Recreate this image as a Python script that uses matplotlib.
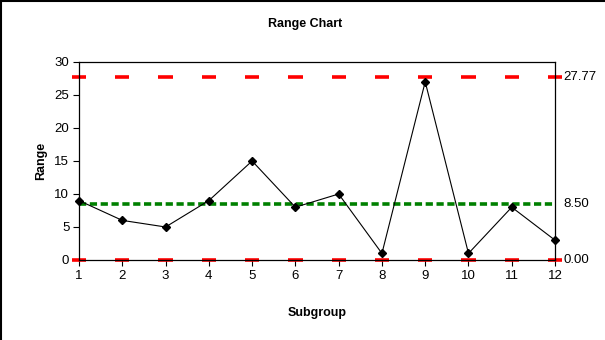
import numpy as np
import matplotlib.pyplot as plt
from matplotlib.lines import Line2D

plt.rcParams['font.family'] = ['Liberation Sans', 'DejaVu Sans']

# Range chart data
subgroups = np.arange(1, 13)
ranges = [9, 6, 5, 9, 15, 8, 10, 1, 27, 1, 8, 3]
ucl = 27.77
cl = 8.50
lcl = 0.00

fig = plt.figure(figsize=(6.05, 3.4), dpi=100)
ax = fig.add_axes([0.1306, 0.2353, 0.7868, 0.5824])

# control limits: red dashes centred on each subgroup
for lim in (ucl, lcl):
    ax.hlines(np.full(len(subgroups), lim), subgroups - 0.165, subgroups + 0.165,
              colors='#ff0000', linewidth=2.6, clip_on=False, zorder=2)
ax.plot([subgroups[0], subgroups[-1]], [cl, cl], color='#008000',
        linewidth=2.6, dashes=(2.0, 1.0), zorder=2)

ax.plot(subgroups, ranges, color='black', linewidth=0.8, marker='D',
        markersize=4.5, zorder=3, clip_on=False)

ax.set_xlim(1, 12)
ax.set_ylim(0, 30)
ax.set_xticks(subgroups)
ax.set_yticks([0, 5, 10, 15, 20, 25, 30])
ax.tick_params(direction='out', length=4, width=0.8, labelsize=9.5, pad=3)
for s in ax.spines.values():
    s.set_linewidth(0.9)

for lim in (ucl, cl, lcl):
    ax.text(12.2, lim, f'{lim:.2f}', fontsize=9.5, va='center', ha='left')

fig.text(0.505, 0.929, 'Range Chart', fontsize=9, fontweight='bold',
         ha='center', va='center')
ax.set_xlabel('Subgroup', fontsize=9, fontweight='bold', labelpad=18)
ax.set_ylabel('Range', fontsize=9, fontweight='bold', labelpad=5)

# frame at the image edge
fig.add_artist(Line2D([0.0015, 0.0015], [0, 1], color='black', linewidth=1.5))
fig.add_artist(Line2D([0, 1], [0.998, 0.998], color='black', linewidth=1.5))

fig.savefig('out.png', dpi=100)
